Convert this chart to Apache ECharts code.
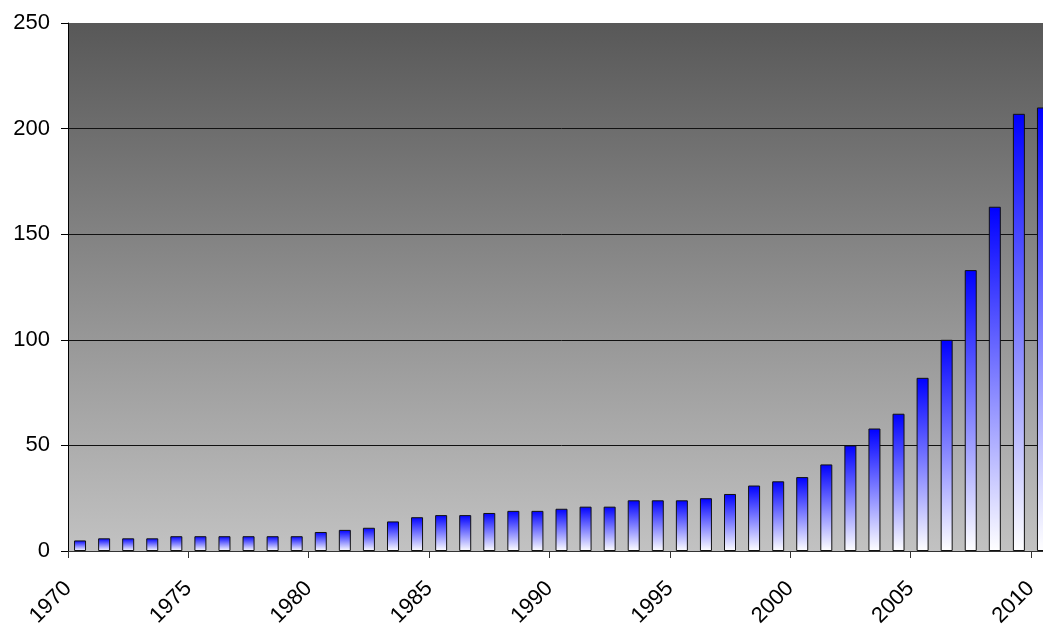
<!DOCTYPE html>
<html>
<head>
<meta charset="utf-8">
<script src="https://cdn.jsdelivr.net/npm/echarts@6/dist/echarts.min.js"></script>
<style>
  html, body { margin: 0; padding: 0; background: #fff; overflow: hidden; }
  #echarts { width: 1055px; height: 626px; }
</style>
</head>
<body>
<div id="echarts"></div>
<script>
var years = [];
for (var y = 1970; y <= 2010; y++) years.push(y);

var counts = [5, 6, 6, 6, 7, 7, 7, 7, 7, 7,
              9, 10, 11, 14, 16, 17, 17, 18, 19, 19,
              20, 21, 21, 24, 24, 24, 25, 27, 31, 33,
              35, 41, 50, 58, 65, 82, 100, 133, 163, 207,
              210];

var yTicks = { min: 0, max: 250, step: 50 };

var myChart = echarts.init(document.getElementById('echarts'));
var font = 'Liberation Sans, Arial, sans-serif';

option = {
    animation: false,
    grid: {
        left: 68,
        right: 0,
        top: 23,
        bottom: 75,
        containLabel: false,
        outerBoundsMode: 'none',
        show: true,
        borderWidth: 0,
        backgroundColor: {
            type: 'linear', x: 0, y: 0, x2: 0, y2: 1,
            colorStops: [
                { offset: 0, color: '#585858' },
                { offset: 1, color: '#c2c2c2' }
            ]
        }
    },
    xAxis: {
        type: 'value',
        min: 1970,
        max: 2011,
        interval: 5,
        axisLine: { onZero: false, lineStyle: { color: '#333', width: 1 } },
        axisTick: { show: true, length: 7, lineStyle: { color: '#333' } },
        splitLine: { show: false },
        axisLabel: {
            rotate: 45,
            margin: 34,
            fontSize: 22,
            color: '#000',
            fontFamily: font,
            showMaxLabel: false,
            formatter: function (v) { return String(v); }
        }
    },
    yAxis: {
        type: 'value',
        min: yTicks.min,
        max: yTicks.max,
        interval: yTicks.step,
        axisLine: { show: true, lineStyle: { color: '#000', width: 1 } },
        axisTick: { show: true, length: 7, lineStyle: { color: '#000' } },
        splitLine: { show: true, showMaxLine: false, lineStyle: { color: '#111', width: 1 } },
        axisLabel: {
            margin: 18,
            fontSize: 22,
            color: '#000',
            fontFamily: font
        }
    },
    series: [
        {
            type: 'bar',
            barWidth: 12,
            data: years.map(function (yr, i) { return [yr + 0.5, counts[i]]; }),
            itemStyle: {
                borderColor: '#111',
                borderWidth: 1,
                color: {
                    type: 'linear', x: 0, y: 0, x2: 0, y2: 1,
                    colorStops: [
                        { offset: 0, color: '#0000ff' },
                        { offset: 1, color: '#ffffff' }
                    ]
                }
            }
        }
    ]
};

myChart.setOption(option);
</script>
</body>
</html>
